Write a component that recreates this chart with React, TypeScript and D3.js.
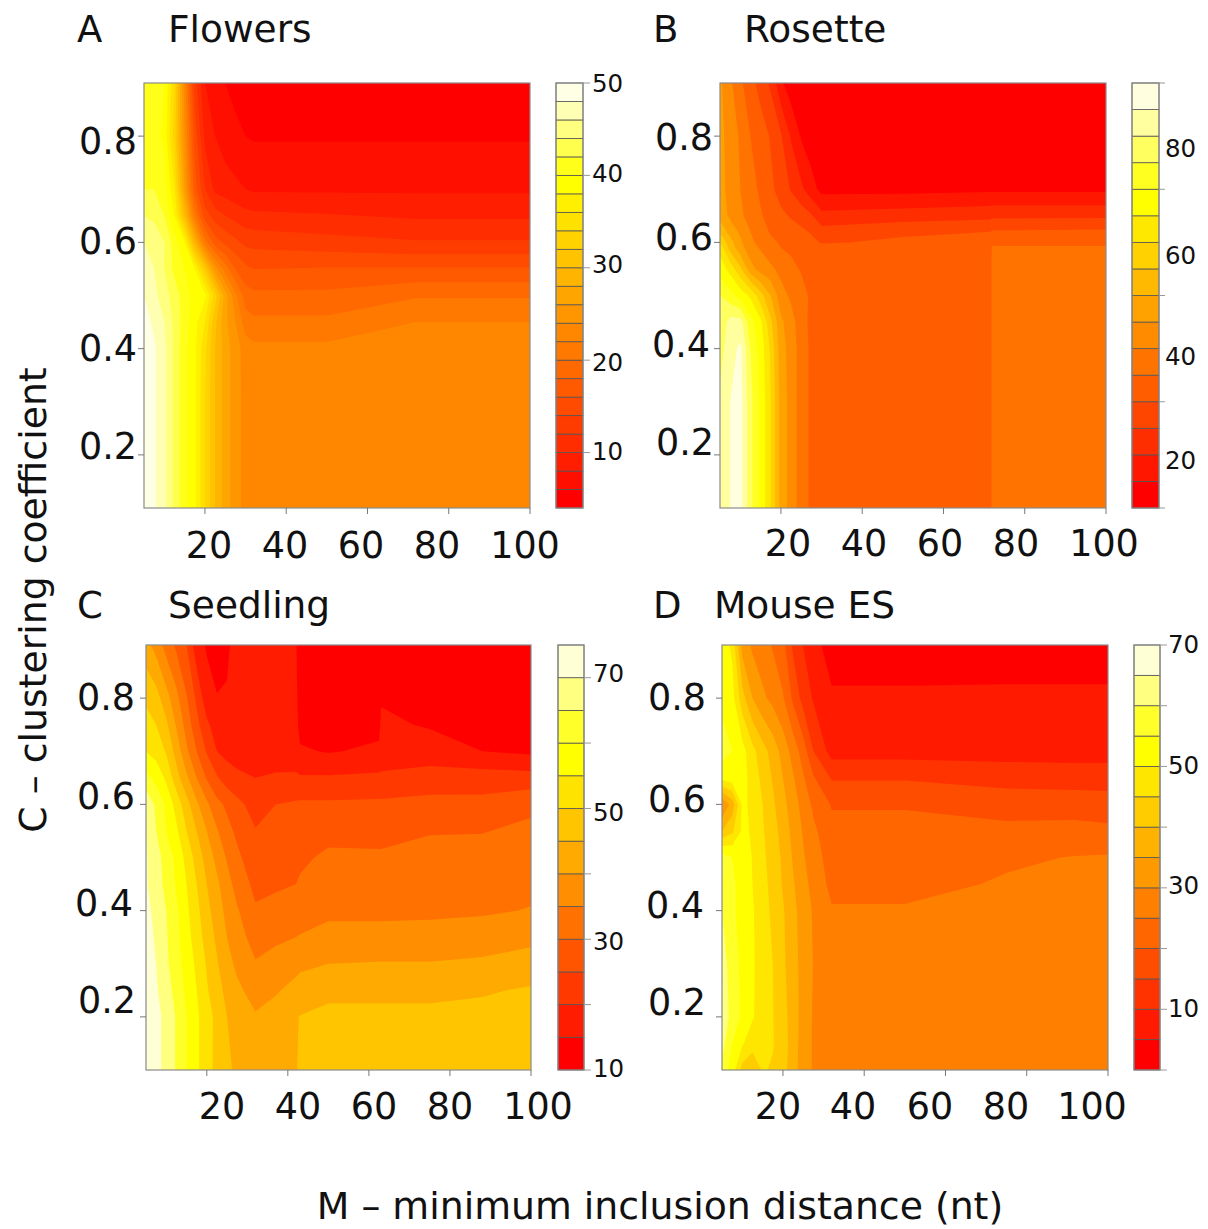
import * as d3 from "d3";

// Grid positions and values. Rows run from low C to high C.
const flowersM = [5, 7.5, 10, 12.5, 15, 17.5, 20, 22.5, 25, 27.5, 30, 32, 50, 72, 100];
const flowersC = [0.1, 0.2, 0.3, 0.4, 0.45, 0.5, 0.55, 0.6, 0.65, 0.7, 0.8, 0.9];
const flowers = [
  [50, 48.3, 46.5, 43.5, 40.5, 38.5, 34, 30, 27, 25, 23.2, 23, 23, 23, 23],
  [50, 48.3, 46.5, 43.5, 40.5, 38.5, 34, 30, 27, 25, 23.2, 23, 23, 23, 23],
  [50, 48.3, 46.5, 43.5, 40.5, 38.5, 34, 30, 27, 25, 23.2, 23, 23, 23, 23],
  [50, 48.3, 46.5, 43.5, 40.5, 38.5, 34.5, 30, 27, 25, 23, 22.5, 22.5, 23, 23],
  [49, 47.5, 46, 43.5, 41, 38.7, 36, 30.5, 26.5, 24, 21, 20.5, 20.5, 22, 22],
  [48, 46.5, 45, 43, 41, 39, 38.5, 33, 27, 22.5, 19, 18.5, 18.5, 19.8, 19.8],
  [47, 46, 44, 41.5, 40, 38, 32, 25, 21, 18, 16.5, 16, 16.2, 16.2, 16.2],
  [46, 45.5, 44, 41, 38, 29, 21, 17, 15.5, 14.5, 13.5, 13.3, 12.8, 12.2, 12.2],
  [44, 43.5, 42, 38, 30, 21, 15, 13, 12, 11.3, 10.7, 10.5, 10.2, 9.7, 9.7],
  [42, 42, 41, 36, 26, 17, 12, 9.5, 9, 8.5, 8, 7.7, 7.7, 7.7, 7.7],
  [41, 41, 39.5, 33, 24, 15, 9.5, 8, 7, 6.4, 6, 5.8, 5.8, 5.8, 5.8],
  [41, 41, 40, 34, 23, 13, 8, 7, 6, 5.5, 5.2, 5, 5, 5, 5],
];

const rosetteM = [5, 7.5, 10, 12.5, 15, 17.5, 20, 22.5, 25, 27.5, 30, 50, 71.5, 72, 100];
const rosetteC = [0.1, 0.2, 0.3, 0.4, 0.45, 0.5, 0.55, 0.59, 0.6, 0.62, 0.65, 0.7, 0.8, 0.9];
const rosette = [
  [81, 85, 87, 76.5, 69, 60, 48, 43, 37.5, 34, 32, 32, 32, 37, 37],
  [81, 85, 87, 76.5, 69, 60, 48, 43, 37.5, 34, 32, 32, 32, 37, 37],
  [81, 85, 87, 76.5, 69, 60, 48, 43, 37.5, 34, 32, 32, 32, 37, 37],
  [78, 83, 86, 75, 68, 59, 47, 43, 37.5, 34, 32, 32, 32, 37, 37],
  [76, 82, 82, 72, 66, 56, 46, 42, 37, 33.7, 32, 32, 32, 37, 37],
  [75, 72, 68, 64, 57, 50, 42, 39, 37, 34, 32, 32, 32, 37, 37],
  [68, 63, 56, 47, 43, 41, 38.5, 36.5, 34.5, 33, 32, 32, 32, 37, 37],
  [63, 53, 47, 42, 39.5, 37, 35, 34, 33.3, 32.6, 32, 32, 32, 36, 36],
  [60, 52, 46, 41, 38.5, 36, 34.5, 33.5, 33, 31.5, 29.5, 31, 32, 33, 33],
  [54, 48, 44, 40, 37, 34.5, 33, 32, 31, 29.5, 27, 29, 30, 30.5, 31],
  [48, 44, 41, 38, 35.5, 33, 31, 29.5, 28, 25.5, 21.5, 22.5, 23.5, 24, 24],
  [47, 43, 40, 37, 34, 31, 28, 24.5, 21, 17, 13.5, 13.5, 14, 14, 14],
  [47, 42, 39.5, 35, 32.5, 29.5, 25.5, 19.5, 14.5, 12, 11, 11, 11, 11, 11],
  [46, 41, 36, 32, 28, 24, 16, 12, 11, 10.5, 10.5, 10.5, 10.5, 10.5, 10.5],
];

const seedlingM = [5, 7.5, 10, 12.5, 15, 17.5, 20, 22.5, 25, 27.5, 32, 37, 42, 43, 50, 62.5, 63, 75, 88, 100];
const seedlingC = [0.1, 0.2, 0.25, 0.3, 0.35, 0.4, 0.45, 0.5, 0.55, 0.6, 0.65, 0.7, 0.75, 0.8, 0.9];
const seedling = [
  [72, 71, 69, 64.5, 60, 56, 52, 48.5, 45.5, 44.5, 43.5, 44, 44.8, 45.5, 46.5, 46.5, 46.5, 46.5, 47, 47.5],
  [72, 71, 69, 64.5, 60, 56, 52, 48.7, 45, 43, 40.5, 42, 44.6, 45.2, 46, 46, 46, 46, 46.5, 47],
  [72, 70.5, 67.5, 63, 59, 55, 50.5, 47, 43.5, 41, 38, 39.5, 41.5, 42, 44, 44, 44, 44, 44.5, 45.5],
  [72, 70, 66, 62, 58, 54, 49.5, 45.5, 41.5, 39, 35.4, 37, 38.5, 39, 40, 40.3, 40.3, 40.3, 41, 42.5],
  [71.5, 69.5, 65.5, 61.5, 57, 52.5, 48, 44, 40, 37, 33, 34, 35, 35.3, 36.5, 36.5, 36.5, 36.5, 37, 38.5],
  [71, 69, 65, 61, 56, 51.5, 46.5, 42.5, 38.5, 35.5, 30.6, 31.5, 32, 32.5, 34, 34, 34, 34.2, 34.5, 35.2],
  [70.5, 67.5, 63.5, 59.5, 55, 50, 45, 41, 37, 33, 28.7, 29.3, 30, 30.5, 32.5, 32.5, 32.5, 33, 33, 34],
  [70.5, 67, 63, 58.5, 53.5, 48, 43, 38.5, 34.5, 31, 27, 27.6, 28.5, 29.2, 30.8, 30.7, 30.7, 31.5, 31.7, 32.5],
  [70, 65, 60, 56, 50, 45, 40, 35.5, 31.5, 29, 25.3, 26.5, 27, 27.3, 28.7, 28.5, 28.5, 29.7, 29.8, 31],
  [69, 64, 59, 53, 47, 41, 36, 31.5, 29, 26.5, 22.8, 25, 25.7, 25.8, 25.8, 26, 26, 26.7, 26.5, 29],
  [61.5, 58.5, 54, 47, 41, 35, 29.5, 25.5, 22.5, 21, 20, 20.5, 20.6, 20.5, 20.6, 21, 21, 22, 22.5, 22],
  [55, 53, 49.5, 43, 36, 30, 24.5, 20, 18.5, 18, 18, 18, 18, 15.7, 14.6, 16, 17, 17.5, 15, 14],
  [52, 50, 46, 39.5, 33, 26.5, 21, 17.5, 17, 17, 17, 17, 17, 13, 13, 13.5, 16, 14.5, 13, 12.5],
  [49, 47, 42, 36.5, 30.5, 24, 17, 15.1, 15.1, 16, 16, 16, 16, 13, 12, 13, 14.5, 12.5, 12, 11.5],
  [42, 38, 33, 29, 25, 17, 14.5, 14, 14.8, 15.5, 15.5, 15.5, 15.3, 13, 12, 12, 12, 12, 11.5, 11],
];

const mouseM = [5, 7.5, 10, 12.5, 15, 17.5, 20, 22.5, 25, 27.5, 32, 50, 75, 92, 100];
const mouseC = [0.1, 0.15, 0.2, 0.3, 0.4, 0.45, 0.5, 0.55, 0.6, 0.65, 0.7, 0.8, 0.9];
const mouse = [
  [58, 53, 43, 41, 45.5, 44.5, 42, 37, 32.5, 29.5, 27, 27, 27, 27, 27],
  [62, 55, 50.5, 47, 46, 45.3, 42.5, 37.5, 32.5, 29.5, 27, 27, 27, 27, 27],
  [64, 58, 54, 50.5, 47.5, 45.2, 42, 37.5, 33, 29.5, 27, 27, 27, 27, 27],
  [63, 57, 54, 50.7, 47.5, 45, 41, 37, 33, 29.8, 27, 27, 27, 27, 27],
  [60, 56, 53, 50.5, 47, 44, 40.5, 36.5, 32.5, 29.5, 25.5, 25.5, 27, 27, 27],
  [58, 56, 53, 50, 46.5, 43.5, 39.5, 35.5, 31.5, 28.5, 23.5, 23.5, 25.5, 26.5, 26.5],
  [58, 55, 52.5, 49.8, 46, 43, 39, 34.5, 30.5, 27.5, 22.5, 22.5, 24.3, 25.2, 25.5],
  [40, 44, 51, 49.5, 45.5, 42, 38, 33.5, 29.5, 26, 21.5, 21.5, 21.2, 21.4, 21],
  [30, 37, 51, 49, 45, 41, 36.5, 32.5, 28, 24, 19.6, 19.6, 18, 18, 17.5],
  [52, 53, 52, 48, 43.5, 39.5, 35, 30.5, 25.5, 20.5, 14.5, 14.5, 13, 12.5, 12.5],
  [57, 55, 52, 46.5, 42, 38, 33, 28, 22.5, 15, 8, 8, 8, 8, 8],
  [54, 52, 42, 35, 31, 28.5, 25.5, 19, 13, 9.5, 5.6, 5.6, 5.7, 5.7, 5.7],
  [53, 49, 33, 29, 27, 24.5, 21.5, 14, 9.9, 6.5, 3, 3, 3, 3, 3],
];

const xTickValues = [20, 40, 60, 80, 100];
const yTickValues = [0.2, 0.4, 0.6, 0.8];

const FONT = "'DejaVu Sans', sans-serif";

// R's heat.colors(n): red to yellow at full saturation, then yellow fading to white
function heatColors(n: number) {
  const j = Math.floor(n / 4);
  const i = n - j;
  const out: string[] = [];
  for (let k = 0; k < i; k++) out.push(d3.hsl((k / (i - 1)) * 60, 1, 0.5).formatHex());
  for (let k = 0; k < j; k++) {
    const from = 1 - 1 / (2 * j);
    const to = 1 / (2 * j);
    const s = j > 1 ? from + ((to - from) * k) / (j - 1) : from;
    out.push(d3.rgb(255, 255, Math.round(255 * (1 - s))).formatHex());
  }
  return out;
}

const panels = [
  {
    key: "A", title: "Flowers", titleX: 168, letterX: 77, baseline: 42,
    ms: flowersM, cs: flowersC, values: flowers,
    levels: d3.range(4, 51, 2),
    plot: { x0: 144, x1: 530, y0: 83, y1: 508 },
    bar: { x0: 556, x1: 583, tickEnd: 590, labelX: 592 },
    barTicks: [10, 20, 30, 40, 50],
    barLabels: [[50, 83], [40, 173], [30, 264], [20, 362], [10, 451]],
    xLabels: [209, 285, 361, 437, 525], xLabelY: 545,
    yLabelX: [108, 108, 108, 108], yLabelY: [446, 348, 241, 141],
  },
  {
    key: "B", title: "Rosette", titleX: 744, letterX: 653, baseline: 42,
    ms: rosetteM, cs: rosetteC, values: rosette,
    levels: d3.range(10, 91, 5),
    plot: { x0: 720, x1: 1106, y0: 83, y1: 508 },
    bar: { x0: 1132, x1: 1159, tickEnd: 1165, labelX: 1165 },
    barTicks: [10, 30, 50, 70, 90],
    barLabels: [[80, 148], [60, 255], [40, 356], [20, 460]],
    xLabels: [788, 864, 940, 1016, 1104], xLabelY: 543,
    yLabelX: [685, 681, 684, 684], yLabelY: [442, 344, 237, 137],
  },
  {
    key: "C", title: "Seedling", titleX: 168, letterX: 77, baseline: 618,
    ms: seedlingM, cs: seedlingC, values: seedling,
    levels: d3.range(10, 76, 5),
    plot: { x0: 146, x1: 531, y0: 645, y1: 1070 },
    bar: { x0: 558, x1: 584, tickEnd: 591, labelX: 593 },
    barTicks: [10, 20, 30, 40, 50, 60, 70],
    barLabels: [[70, 673], [50, 812], [30, 941], [10, 1068]],
    xLabels: [222, 298, 374, 450, 538], xLabelY: 1106,
    yLabelX: [107, 104, 106, 106], yLabelY: [1000, 903, 796, 697],
  },
  {
    key: "D", title: "Mouse ES", titleX: 714, letterX: 653, baseline: 618,
    ms: mouseM, cs: mouseC, values: mouse,
    levels: d3.range(0, 71, 5),
    plot: { x0: 722, x1: 1108, y0: 645, y1: 1070 },
    bar: { x0: 1134, x1: 1160, tickEnd: 1167, labelX: 1168 },
    barTicks: [0, 10, 20, 30, 40, 50, 60, 70],
    barLabels: [[70, 644], [50, 765], [30, 885], [10, 1008]],
    xLabels: [778, 853, 930, 1006, 1092], xLabelY: 1106,
    yLabelX: [677, 675, 677, 677], yLabelY: [1002, 905, 799, 697],
  },
];

function Panel({ p }: { p: (typeof panels)[number] }) {
  const { plot, bar } = p;
  const x = d3.scaleLinear().domain([5, 100]).range([plot.x0, plot.x1]);
  const y = d3.scaleLinear().domain([0.1, 0.9]).range([plot.y1, plot.y0]);

  const nx = p.ms.length;
  const ny = p.cs.length;
  // d3.contours puts value i at i + 0.5, so map grid coordinates back to M and C
  const gridToM = d3.scaleLinear().domain(p.ms.map((_, i) => i + 0.5)).range(p.ms).clamp(true);
  const gridToC = d3.scaleLinear().domain(p.cs.map((_, i) => i + 0.5)).range(p.cs).clamp(true);
  const path = d3.geoPath(
    d3.geoTransform({
      point(px, py) {
        this.stream.point(x(gridToM(px)), y(gridToC(py)));
      },
    })
  );

  const bands = p.levels.slice(0, -1);
  const colors = heatColors(bands.length);
  const contours = d3.contours().size([nx, ny]).smooth(true).thresholds(bands)(p.values.flat());

  const barY = d3.scaleLinear()
    .domain([p.levels[0], p.levels[p.levels.length - 1]])
    .range([plot.y1, plot.y0]);

  return (
    <g>
      <text x={p.letterX} y={p.baseline} fontSize={37}>{p.key}</text>
      <text x={p.titleX} y={p.baseline} fontSize={37.5}>{p.title}</text>

      <rect x={plot.x0} y={plot.y0} width={plot.x1 - plot.x0} height={plot.y1 - plot.y0} fill={colors[0]} />
      {contours.map((c, i) => (
        <path key={i} d={path(c as any) ?? ""} fill={colors[i]} />
      ))}
      <rect x={plot.x0} y={plot.y0} width={plot.x1 - plot.x0} height={plot.y1 - plot.y0} fill="none" stroke="#8a8a8a" strokeWidth={1.2} />

      {xTickValues.map((t, i) => (
        <g key={t}>
          <line x1={x(t)} x2={x(t)} y1={plot.y1} y2={plot.y1 + 6} stroke="#777" />
          <text x={p.xLabels[i]} y={p.xLabelY} fontSize={36.5} textAnchor="middle" dominantBaseline="central">{t}</text>
        </g>
      ))}
      {yTickValues.map((t, i) => (
        <g key={t}>
          <line x1={plot.x0 - 6} x2={plot.x0} y1={y(t)} y2={y(t)} stroke="#777" />
          <text x={p.yLabelX[i]} y={p.yLabelY[i]} fontSize={36.5} textAnchor="middle" dominantBaseline="central">{t}</text>
        </g>
      ))}

      {bands.map((lo, i) => (
        <rect
          key={lo}
          x={bar.x0}
          y={barY(p.levels[i + 1])}
          width={bar.x1 - bar.x0}
          height={barY(lo) - barY(p.levels[i + 1])}
          fill={colors[i]}
          stroke="#555"
          strokeWidth={0.8}
        />
      ))}
      <rect x={bar.x0} y={plot.y0} width={bar.x1 - bar.x0} height={plot.y1 - plot.y0} fill="none" stroke="#8a8a8a" strokeWidth={1.2} />
      {p.barTicks.map((t) => (
        <line key={t} x1={bar.x1} x2={bar.tickEnd} y1={barY(t)} y2={barY(t)} stroke="#999" />
      ))}
      {p.barLabels.map(([v, ly]) => (
        <text key={v} x={bar.labelX} y={ly} fontSize={24.5} dominantBaseline="central">{v}</text>
      ))}
    </g>
  );
}

export default function App() {
  return (
    <svg
      width={1208}
      height={1229}
      viewBox="0 0 1208 1229"
      fontFamily={FONT}
      fill="#111"
      style={{ position: "absolute", left: 0, top: 0, background: "#fff" }}
    >
      {panels.map((p) => (
        <Panel key={p.key} p={p} />
      ))}
      <text x={33} y={600} fontSize={37.8} textAnchor="middle" dominantBaseline="central" transform="rotate(-90 33 600)">
        C – clustering coefficient
      </text>
      <text x={660} y={1219} fontSize={37.8} textAnchor="middle">
        M – minimum inclusion distance (nt)
      </text>
    </svg>
  );
}
